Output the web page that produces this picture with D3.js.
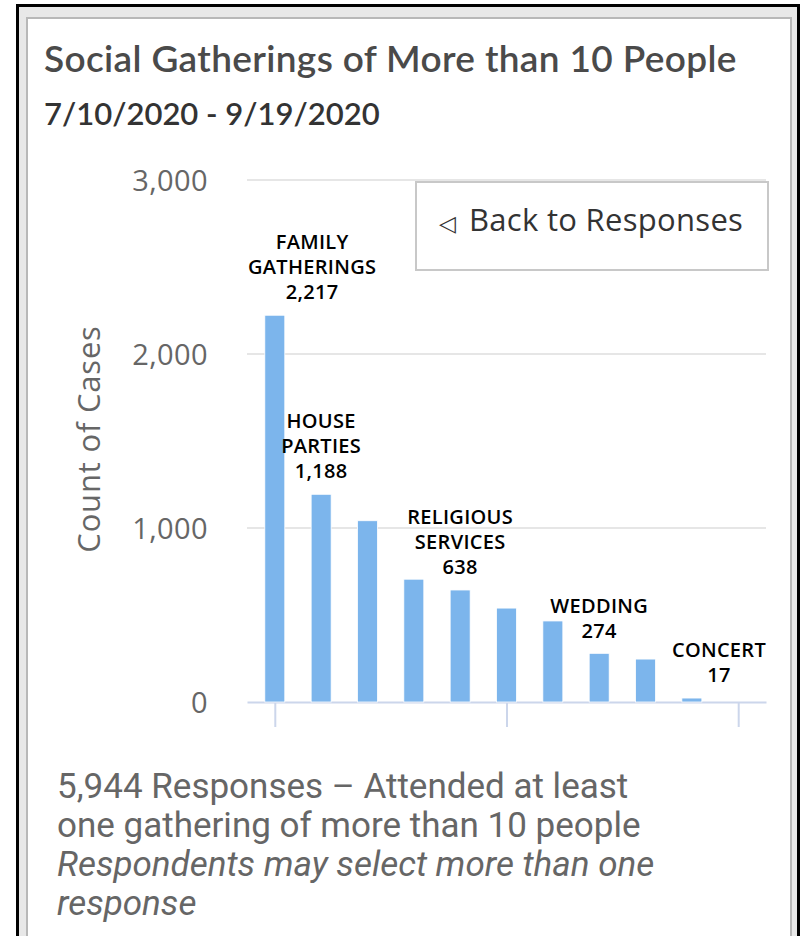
<!DOCTYPE html>
<html>
<head>
<meta charset="utf-8">
<script src="https://cdn.jsdelivr.net/npm/d3@7/dist/d3.min.js"></script>
<style>
  html, body { margin: 0; padding: 0; background: #fff; }
  svg { display: block; }
</style>
</head>
<body>
<svg id="chart" width="803" height="936"></svg>
<script>
// Gathering types (only some are named on the chart) and their case counts
const categories = ["FAMILY GATHERINGS", "HOUSE PARTIES", "", "", "RELIGIOUS SERVICES", "", "", "WEDDING", "", "CONCERT"];
const labelLines = [["FAMILY", "GATHERINGS"], ["HOUSE", "PARTIES"], [], [], ["RELIGIOUS", "SERVICES"], [], [], ["WEDDING"], [], ["CONCERT"]];
const counts = [2217, 1188, 1036, 700, 638, 534, 460, 274, 241, 17];
const yTicks = [0, 1000, 2000, 3000];
const xTicks = [0, 5, 10];

const titleText = "Social Gatherings of More than 10 People";
const dateRange = "7/10/2020 - 9/19/2020";
const yTitle = "Count of Cases";
const buttonIcon = "\u25C1";
const buttonText = "Back to Responses";
const footerLines = ["5,944 Responses \u2013 Attended at least", "one gathering of more than 10 people"];
const noteLines = ["Respondents may select more than one", "response"];

const svg = d3.select("#chart");
const fmt = d3.format(",");

// panel frame
svg.append("rect").attr("x", 17.5).attr("y", 5.5).attr("width", 781).attr("height", 940)
  .attr("fill", "#e8e8e8").attr("stroke", "#000").attr("stroke-width", 3);
svg.append("rect").attr("x", 27).attr("y", 18).attr("width", 764).attr("height", 930)
  .attr("fill", "#fff").attr("stroke", "#b8b8b8").attr("stroke-width", 2);

// headings
svg.append("text").attr("x", 44).attr("y", 72)
  .attr("font-family", "Lato, sans-serif").attr("font-weight", 600).attr("font-size", 37)
  .attr("letter-spacing", 0.35)
  .attr("fill", "#4a4a4a").text(titleText);
svg.append("text").attr("x", 44).attr("y", 125)
  .attr("font-family", "Lato, sans-serif").attr("font-weight", 600).attr("font-size", 31)
  .attr("fill", "#333").text(dateRange);

// scales
const x = d3.scaleLinear().domain([-0.6, 10.6]).range([247, 766]);
const y = d3.scaleLinear().domain([0, 3000]).range([702, 180]);
const barW = 20;

// gridlines
svg.append("g").selectAll("line").data(yTicks.filter(d => d > 0)).join("line")
  .attr("x1", x.range()[0]).attr("x2", x.range()[1])
  .attr("y1", d => y(d)).attr("y2", d => y(d))
  .attr("stroke", "#e6e6e6").attr("stroke-width", 2);

// y axis labels
const yAxis = d3.axisLeft(y).tickValues(yTicks).tickFormat(fmt).tickSize(0).tickPadding(0);
const gy = svg.append("g").attr("transform", "translate(208,0)").call(yAxis);
gy.select(".domain").remove();
gy.selectAll("text").attr("font-family", "'Open Sans', sans-serif").attr("font-size", 29)
  .attr("letter-spacing", 0.4).attr("fill", "#666").attr("dy", "0.36em");

svg.append("text")
  .attr("transform", "translate(100,439) rotate(-90)")
  .attr("text-anchor", "middle")
  .attr("font-family", "'Open Sans', sans-serif").attr("font-size", 31)
  .attr("letter-spacing", 0.8).attr("fill", "#666")
  .text(yTitle);

// x axis line and ticks
const xAxis = d3.axisBottom(x).tickValues(xTicks).tickFormat("").tickSize(25).tickSizeOuter(0);
const gx = svg.append("g").attr("transform", `translate(0,${y(0)})`).call(xAxis);
gx.select(".domain").attr("stroke", "#ccd6eb").attr("stroke-width", 2);
gx.selectAll(".tick line").attr("stroke", "#ccd6eb").attr("stroke-width", 2);

// bars
svg.append("g").selectAll("rect").data(counts).join("rect")
  .attr("x", (d, i) => x(i) - barW / 2)
  .attr("y", d => y(d) - 1)
  .attr("width", barW)
  .attr("height", d => y(0) - y(d) + 1)
  .attr("fill", "#7cb5ec")
  .attr("stroke", "#fff").attr("stroke-width", 0.8);

// value labels above the named bars; kept inside the plot, the last one justified to its right edge
const lblG = svg.append("g")
  .attr("font-family", "'Open Sans', sans-serif").attr("font-weight", 600)
  .attr("font-size", 20).attr("letter-spacing", 0.3).attr("fill", "#000").attr("text-anchor", "middle");
const lastIdx = counts.length - 1;
counts.forEach((v, i) => {
  if (!categories[i]) return;
  const lines = labelLines[i].concat([fmt(v)]);
  const g = lblG.append("g");
  const bottom = y(v) - 24;
  lines.forEach((t, k) => {
    g.append("text").attr("x", 0)
      .attr("y", bottom - (lines.length - 1 - k) * 25)
      .attr("dy", "0.36em").text(t);
  });
  const w = d3.max(g.selectAll("text").nodes(), n => n.getComputedTextLength());
  let cx = x(i);
  const lo = x.range()[0] + 1, hi = x.range()[1];
  if (cx - w / 2 < lo) cx = lo + w / 2;
  if (cx + w / 2 > hi || i === lastIdx) cx = hi - w / 2;
  g.attr("transform", `translate(${cx},0)`);
});

// back button
svg.append("rect").attr("x", 416).attr("y", 182).attr("width", 352).attr("height", 88)
  .attr("fill", "#fff").attr("stroke", "#c8c8c8").attr("stroke-width", 2);
const bt = svg.append("text").attr("y", 231)
  .attr("font-family", "'Open Sans', sans-serif").attr("fill", "#333");
bt.append("tspan").attr("x", 439).attr("font-size", 22).text(buttonIcon);
bt.append("tspan").attr("x", 469).attr("font-size", 31).attr("letter-spacing", 0.3).text(buttonText);

// footer notes
const ft = svg.append("g").attr("font-family", "Roboto, sans-serif")
  .attr("font-size", 35).attr("fill", "#666");
footerLines.forEach((t, k) => ft.append("text").attr("x", 57).attr("y", 798 + k * 39).text(t));
noteLines.forEach((t, k) => ft.append("text").attr("x", 57).attr("y", 876 + k * 39)
  .attr("font-style", "italic").text(t));
</script>
</body>
</html>
